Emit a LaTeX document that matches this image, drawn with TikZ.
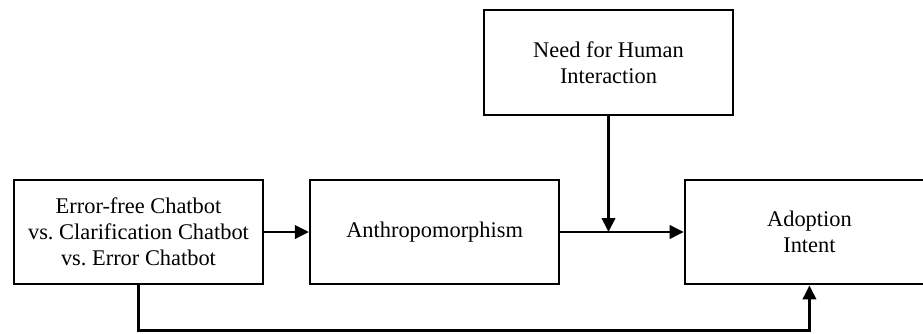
\documentclass[tikz,border=0pt]{standalone}
\usepackage{fontspec}
\setmainfont{Liberation Serif}
\usetikzlibrary{positioning,arrows.meta}
\frenchspacing

\begin{document}
\begin{tikzpicture}[x=0.75pt,y=-0.75pt,
    every node/.style={font=\fontsize{16.8}{19.5}\selectfont,align=center},
    box/.style={draw,line width=1.6pt,minimum width=187pt,minimum height=78.5pt,inner sep=2pt},
    arr/.style={-{Triangle[length=10.5pt,width=10pt]},line width=2pt}]
  \useasboundingbox (0,0) rectangle (923,333);
  \clip (0,0) rectangle (923,333);
  \node[box] (cond) at (138.5,232) {Error-free Chatbot\\vs. Clarification Chatbot\\vs. Error Chatbot};
  \node[box,right=33.5pt of cond] (anth) {Anthropomorphism};
  \node[box,right=92.5pt of anth] (adopt) {Adoption\\Intent};
  \node[box] (need) at (608.5,62.5) {Need for Human\\Interaction};
  \coordinate (mod) at (need.south |- anth.east);
  \draw[arr] (cond) -- (anth); \draw[arr] (anth) -- (adopt);
  \draw[arr] (need) -- (mod);
  \draw[arr] (cond.south) -- ++(0,-34pt) -| (adopt.south);
\end{tikzpicture}
\end{document}
